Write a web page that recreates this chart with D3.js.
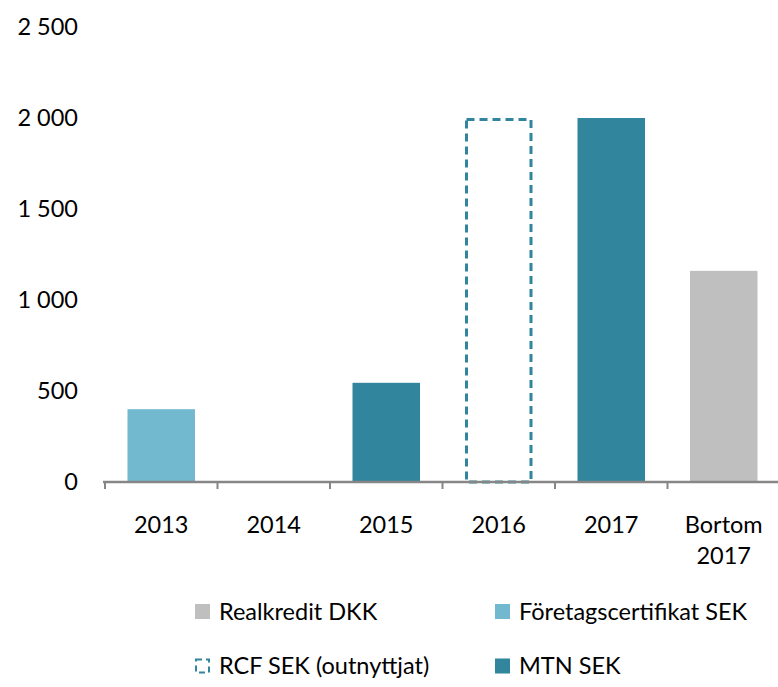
<!DOCTYPE html>
<html><head><meta charset="utf-8">
<script src="https://cdn.jsdelivr.net/npm/d3@7"></script>
<style>body{margin:0;background:#fff}svg{display:block;font-family:Lato,"Open Sans",sans-serif}</style>
</head><body>
<script>
const categories = ["2013","2014","2015","2016","2017","Bortom 2017"];
const realkreditDKK = [0,0,0,0,0,1160];
const foretagscertifikatSEK = [400,0,0,0,0,0];
const rcfSEK = [0,0,0,2000,0,0];
const mtnSEK = [0,0,545,0,2000,0];
const yTicks = [0,500,1000,1500,2000,2500];
const seriesNames = ["Realkredit DKK","Företagscertifikat SEK","RCF SEK (outnyttjat)","MTN SEK"];

const W = 778, H = 687, FS = 23.5;
const svg = d3.select("body").append("svg").attr("width",W).attr("height",H);
const colors = {"Realkredit DKK":"#BFBFBF","Företagscertifikat SEK":"#72B8CE","RCF SEK (outnyttjat)":"#31859C","MTN SEK":"#31859C"};

const x = d3.scaleBand().domain(categories).range([105,780]).paddingInner(0).paddingOuter(0);
const y = d3.scaleLinear().domain([0,2500]).range([482,27]);

const rows = categories.map((c,i)=>({cat:c,
  "MTN SEK":mtnSEK[i],"Företagscertifikat SEK":foretagscertifikatSEK[i],
  "RCF SEK (outnyttjat)":rcfSEK[i],"Realkredit DKK":realkreditDKK[i]}));
const stack = d3.stack().keys(["MTN SEK","Företagscertifikat SEK","RCF SEK (outnyttjat)","Realkredit DKK"]);
const stacked = stack(rows);

const bw = x.step()*0.6, off = x.step()*0.2;
stacked.forEach(s=>{
  const dashed = s.key==="RCF SEK (outnyttjat)";
  svg.append("g").selectAll("rect").data(s.filter(d=>d[1]-d[0]>0)).join("rect")
    .attr("x",d=>x(d.data.cat)+off + (dashed?1.5:0))
    .attr("y",d=>y(d[1]) + (dashed?1.5:0))
    .attr("width",bw - (dashed?3:0))
    .attr("height",d=>y(d[0])-y(d[1]) - (dashed?1.5:0))
    .attr("fill",dashed?"none":colors[s.key])
    .attr("stroke",dashed?colors[s.key]:"none")
    .attr("stroke-width",dashed?3:0)
    .attr("stroke-dasharray",dashed?"8,5":null);
});

// y labels
const fmt = d3.formatLocale({thousands:" ",grouping:[3],decimal:",",currency:["",""]}).format(",");
svg.append("g").selectAll("text").data(yTicks).join("text")
  .attr("x",78).attr("y",d=>y(d)).attr("dy","0.35em")
  .attr("text-anchor","end").attr("font-size",FS).attr("fill","#000")
  .text(d=>fmt(d));

// x axis
const ax = svg.append("g");
ax.append("line").attr("x1",103).attr("x2",780).attr("y1",482).attr("y2",482)
  .attr("stroke","#868686").attr("stroke-width",2.5);
const tickPos = categories.map(c=>x(c)).concat([x.range()[1]]);
ax.selectAll("line.t").data(tickPos).join("line").attr("class","t")
  .attr("x1",d=>d).attr("x2",d=>d).attr("y1",482).attr("y2",489)
  .attr("stroke","#868686").attr("stroke-width",2);
ax.selectAll("text").data(categories).join("text")
  .attr("x",d=>x(d)+x.bandwidth()/2).attr("y",525)
  .attr("text-anchor","middle").attr("font-size",FS).attr("fill","#000")
  .each(function(d){
    const parts = d.split(" ");
    const t = d3.select(this);
    parts.forEach((p,i)=>t.append("tspan").attr("x",x(d)+x.bandwidth()/2).attr("dy",i===0?"0.35em":"1.3em").text(p));
  });

// legend
const legendPos = [
  {name:"Realkredit DKK",x:195,y:611.5},
  {name:"Företagscertifikat SEK",x:495,y:611.5},
  {name:"RCF SEK (outnyttjat)",x:195,y:666},
  {name:"MTN SEK",x:495,y:666}];
const lg = svg.append("g");
legendPos.forEach(l=>{
  if(l.name==="RCF SEK (outnyttjat)"){
    lg.append("rect").attr("x",l.x+1).attr("y",l.y-6.5).attr("width",13).attr("height",13)
      .attr("fill","none").attr("stroke",colors[l.name]).attr("stroke-width",2).attr("stroke-dasharray","6,4");
  } else {
    lg.append("rect").attr("x",l.x).attr("y",l.y-7.5).attr("width",15).attr("height",15).attr("fill",colors[l.name]);
  }
  lg.append("text").attr("x",l.x+24).attr("y",l.y).attr("dy","0.35em").attr("font-size",FS).attr("fill","#000").text(l.name);
});
</script>
</body></html>
